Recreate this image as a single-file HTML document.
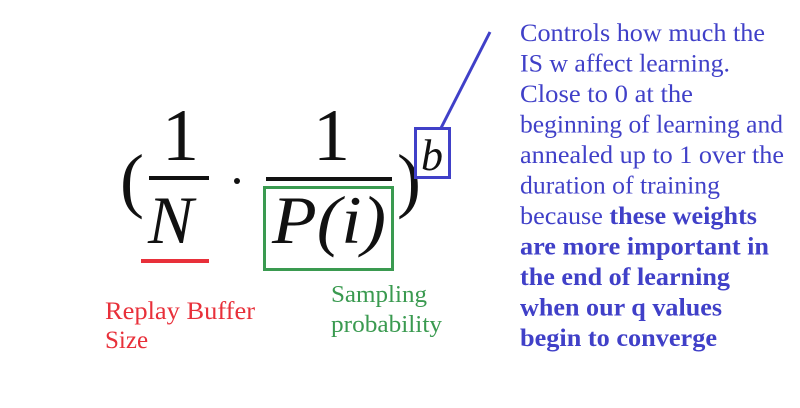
<!DOCTYPE html>
<html><head><meta charset="utf-8"><style>
html,body{margin:0;padding:0;background:#fff;}
svg{display:block;}
text{font-family:"Liberation Serif",serif;}
</style></head><body>
<svg width="800" height="408" viewBox="0 0 800 408">
<rect width="800" height="408" fill="#fff"/>
<g fill="#111">
<text x="120" y="204" font-size="72">(</text>
<text x="162" y="160" font-size="74">1</text>
<rect x="149" y="176" width="60" height="4"/>
<text x="148" y="243" font-size="68" font-style="italic">N</text>
<circle cx="237" cy="181" r="3"/>
<text x="313" y="160" font-size="74">1</text>
<rect x="266" y="177" width="126" height="4"/>
<text x="272" y="243" font-size="68" font-style="italic" textLength="114" lengthAdjust="spacingAndGlyphs">P(i)</text>
<text x="397" y="204" font-size="72">)</text>
<text x="421" y="170" font-size="44" font-style="italic">b</text>
</g>
<rect x="141" y="259" width="68" height="4" fill="#e8303a"/>
<rect x="264.5" y="187.5" width="128" height="82" fill="none" stroke="#3a9a50" stroke-width="3"/>
<rect x="415.5" y="128.5" width="34" height="49" fill="none" stroke="#4040c8" stroke-width="3"/>
<line x1="441" y1="128" x2="490" y2="32" stroke="#4040c8" stroke-width="3"/>
<g fill="#e8303a" font-size="25">
<text x="105" y="319" textLength="150" lengthAdjust="spacingAndGlyphs">Replay Buffer</text>
<text x="105" y="348">Size</text>
</g>
<g fill="#3a9a50" font-size="24">
<text x="331" y="302" textLength="96" lengthAdjust="spacingAndGlyphs">Sampling</text>
<text x="331" y="332" textLength="111" lengthAdjust="spacingAndGlyphs">probability</text>
</g>
<g fill="#4040c8" font-size="25" lengthAdjust="spacingAndGlyphs">
<text x="520" y="41" textLength="245" lengthAdjust="spacingAndGlyphs">Controls how much the</text>
<text x="520" y="71.5" textLength="210" lengthAdjust="spacingAndGlyphs">IS w affect learning.</text>
<text x="520" y="102" textLength="173" lengthAdjust="spacingAndGlyphs">Close to 0 at the</text>
<text x="520" y="132.5" textLength="263" lengthAdjust="spacingAndGlyphs">beginning of learning and</text>
<text x="520" y="163" textLength="264" lengthAdjust="spacingAndGlyphs">annealed up to 1 over the</text>
<text x="520" y="193.5" textLength="200" lengthAdjust="spacingAndGlyphs">duration of training</text>
<text x="520" y="224" textLength="237" lengthAdjust="spacingAndGlyphs">because <tspan font-weight="bold">these weights</tspan></text>
<text x="520" y="254.5" font-weight="bold" textLength="249" lengthAdjust="spacingAndGlyphs">are more important in</text>
<text x="520" y="285" font-weight="bold" textLength="210" lengthAdjust="spacingAndGlyphs">the end of learning</text>
<text x="520" y="315.5" font-weight="bold" textLength="202" lengthAdjust="spacingAndGlyphs">when our q values</text>
<text x="520" y="346" font-weight="bold" textLength="197" lengthAdjust="spacingAndGlyphs">begin to converge</text>
</g>
</svg>
</body></html>
